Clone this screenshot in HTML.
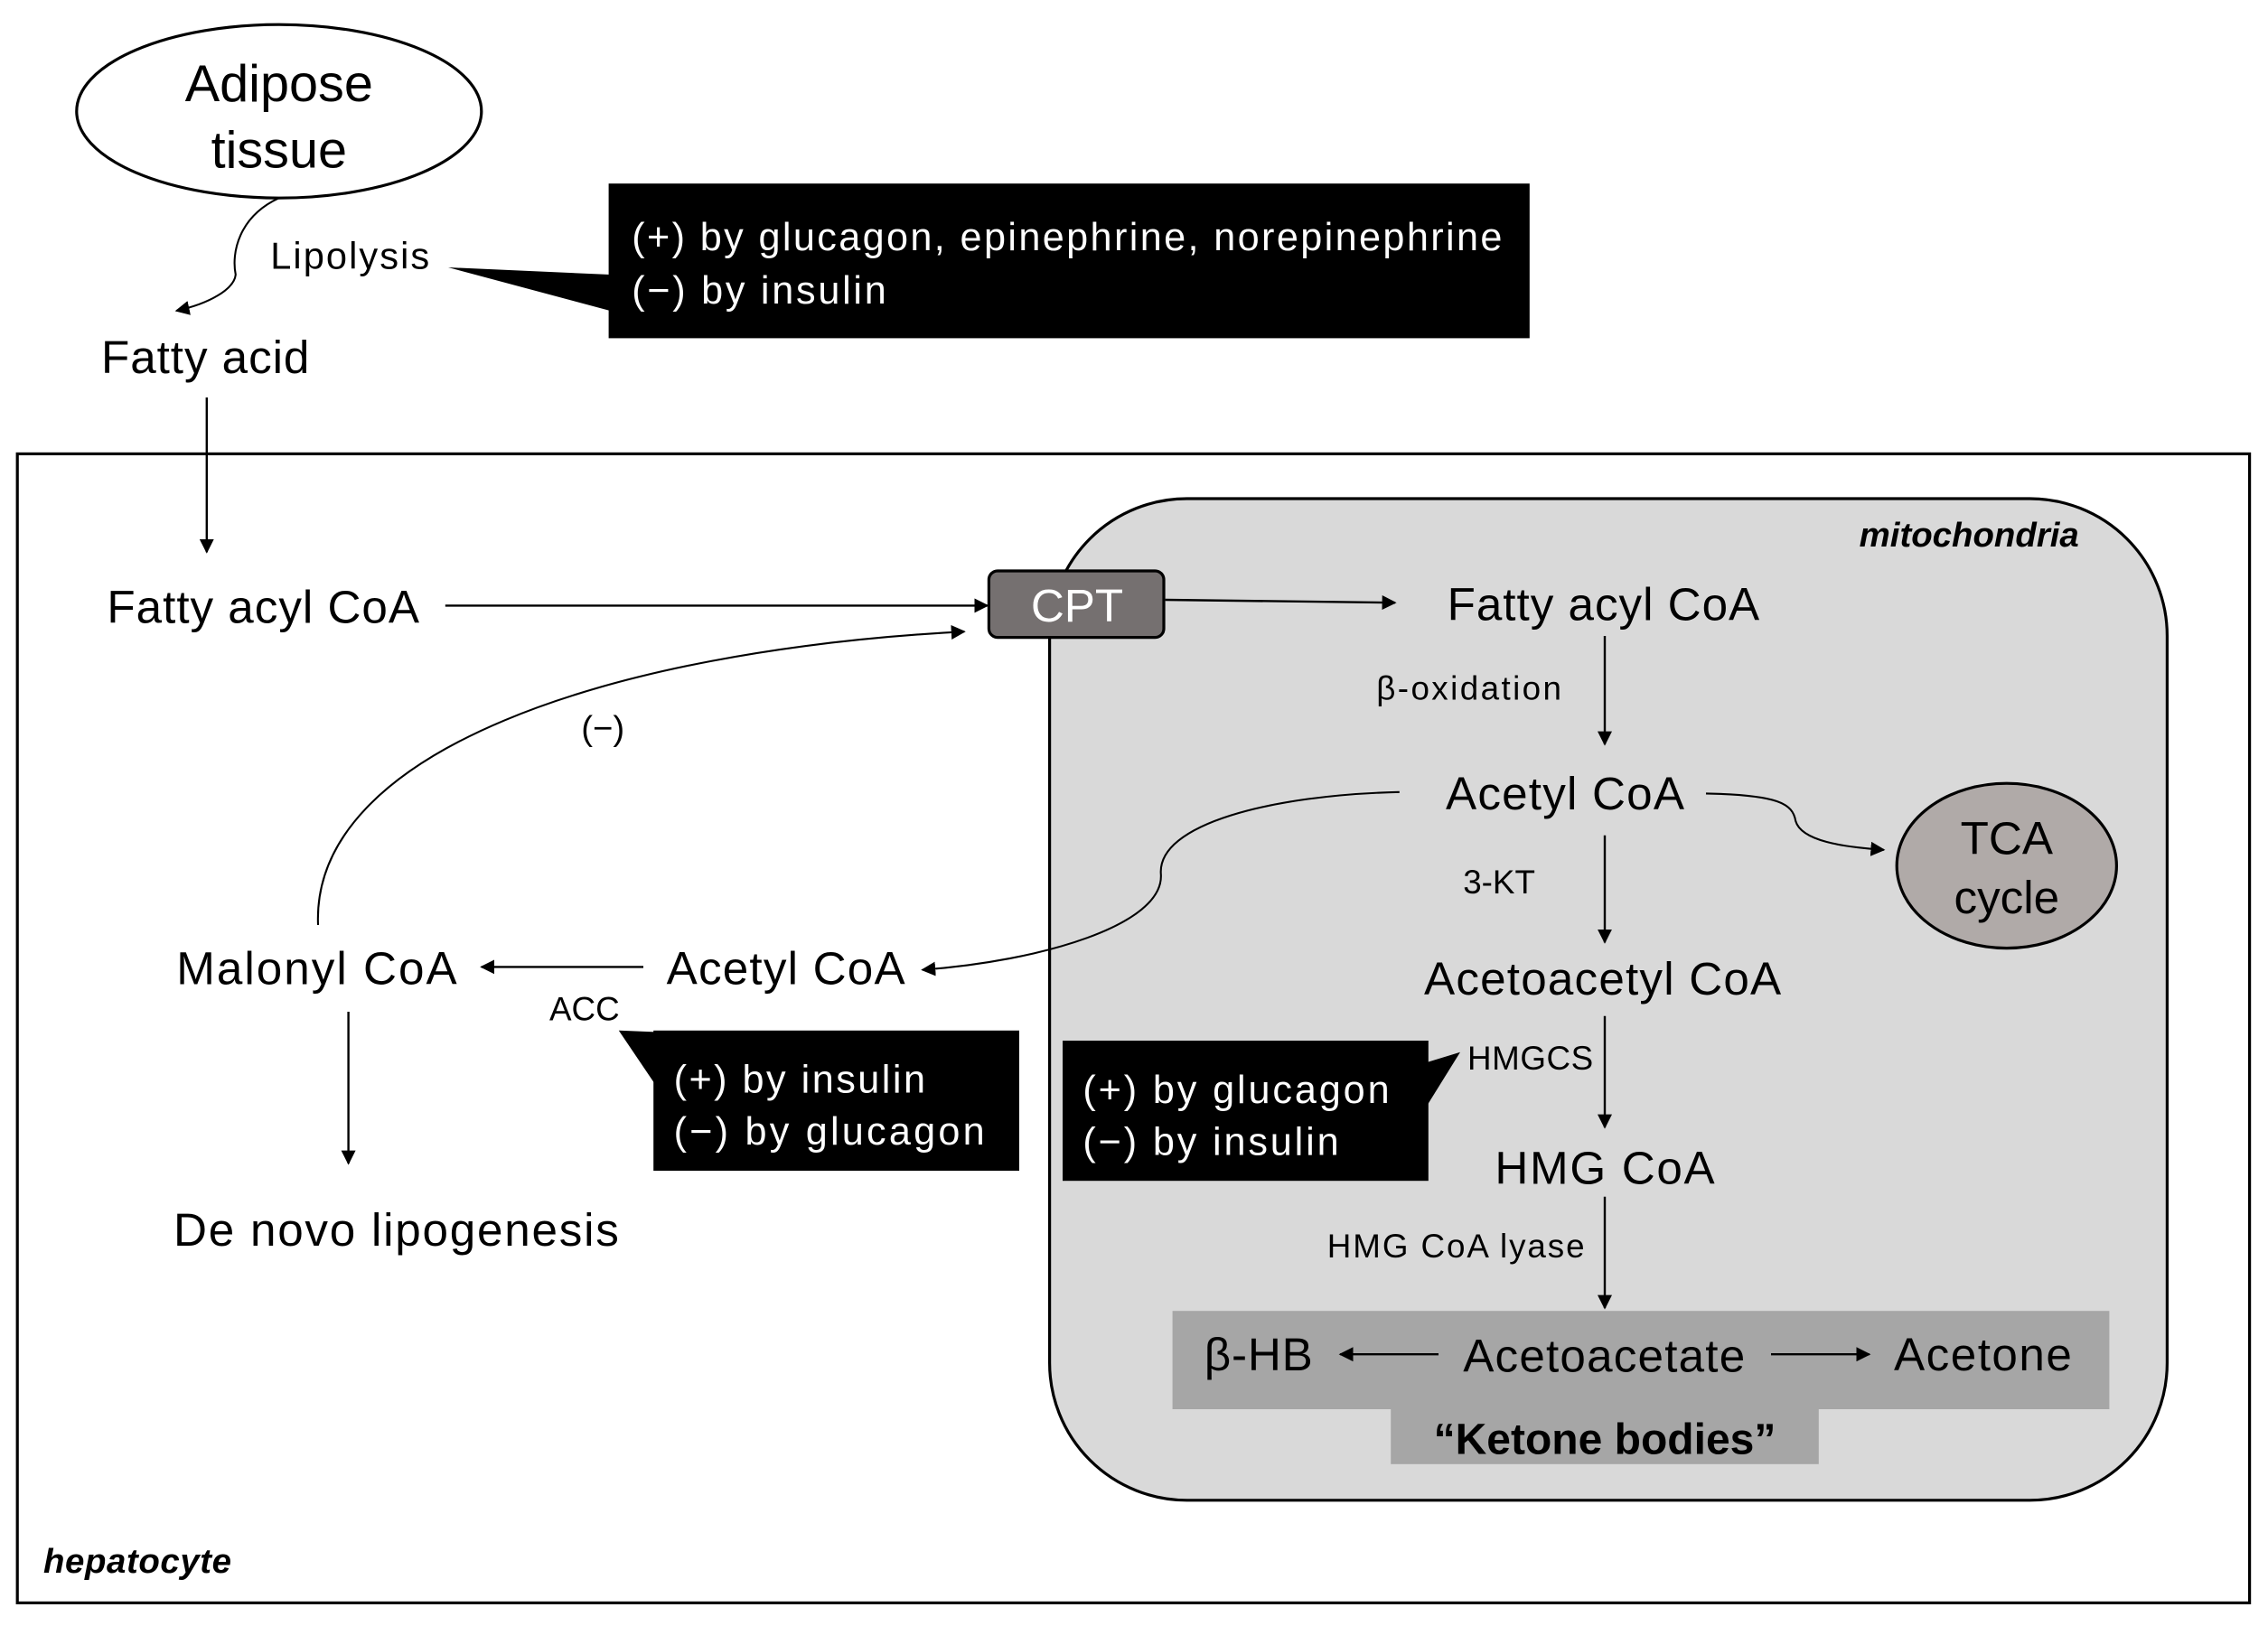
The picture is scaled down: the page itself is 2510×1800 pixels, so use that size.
<!DOCTYPE html>
<html><head><meta charset="utf-8"><style>
html,body{margin:0;padding:0;background:#fff;}
svg{display:block;}
text{font-family:"Liberation Sans",sans-serif;}
</style></head><body>
<svg width="2510" height="1800" viewBox="0 0 1568.75 1125" preserveAspectRatio="none" xmlns="http://www.w3.org/2000/svg">
<defs>
<marker id="a" markerWidth="10" markerHeight="10" refX="9" refY="5" orient="auto" markerUnits="userSpaceOnUse">
<path d="M0,0 L10,5 L0,10 z" fill="#000"/></marker>
</defs>
<rect width="1568.75" height="1125" fill="#fff"/>
<!-- adipose -->
<ellipse cx="193" cy="77" rx="140" ry="60" fill="#fff" stroke="#000" stroke-width="2"/>
<text x="193" y="70" font-size="36" text-anchor="middle">Adipose</text>
<text x="193" y="116" font-size="36" text-anchor="middle">tissue</text>
<path d="M193,137 C165,150 160,175 163,190 C162,200 145,210 122,215" fill="none" stroke="#000" stroke-width="1.3" marker-end="url(#a)"/>
<text x="187" y="186" font-size="26" textLength="110">Lipolysis</text>
<rect x="421" y="127" width="637" height="107" fill="#000"/>
<path d="M310,185 L422,190 L422,215 z" fill="#000"/>
<text x="437" y="173" font-size="27" fill="#fff" textLength="602">(+) by glucagon, epinephrine, norepinephrine</text>
<text x="437" y="210" font-size="27" fill="#fff" textLength="176">(−) by insulin</text>
<text x="70" y="258" font-size="32" textLength="144">Fatty acid</text>
<line x1="143" y1="275" x2="143" y2="382" stroke="#000" stroke-width="1.5" marker-end="url(#a)"/>
<!-- hepatocyte -->
<rect x="12" y="314" width="1544" height="795" fill="none" stroke="#000" stroke-width="2"/>
<text x="30" y="1088" font-size="24" font-weight="bold" font-style="italic" textLength="130">hepatocyte</text>
<!-- mitochondria -->
<rect x="726" y="345" width="773" height="693" rx="95" fill="#d9d9d9" stroke="#000" stroke-width="2"/>
<text x="1438" y="378" font-size="24" font-weight="bold" font-style="italic" text-anchor="end">mitochondria</text>
<text x="74" y="431" font-size="32" textLength="216">Fatty acyl CoA</text>
<line x1="308" y1="419" x2="683" y2="419" stroke="#000" stroke-width="1.5" marker-end="url(#a)"/>
<rect x="684" y="395" width="121" height="46" rx="6" fill="#757070" stroke="#000" stroke-width="2"/>
<text x="745" y="430" font-size="32" fill="#fff" text-anchor="middle">CPT</text>
<line x1="806" y1="415" x2="965" y2="417" stroke="#000" stroke-width="1.5" marker-end="url(#a)"/>
<text x="1001" y="429" font-size="32" textLength="216">Fatty acyl CoA</text>
<text x="952" y="484" font-size="23" textLength="128">β-oxidation</text>
<line x1="1110" y1="440" x2="1110" y2="515" stroke="#000" stroke-width="1.5" marker-end="url(#a)"/>
<text x="1000" y="560" font-size="32" textLength="165">Acetyl CoA</text>
<text x="1012" y="618" font-size="23">3-KT</text>
<line x1="1110" y1="578" x2="1110" y2="652" stroke="#000" stroke-width="1.5" marker-end="url(#a)"/>
<text x="985" y="688" font-size="32" textLength="247">Acetoacetyl CoA</text>
<text x="1015" y="740" font-size="23" textLength="87">HMGCS</text>
<line x1="1110" y1="703" x2="1110" y2="780" stroke="#000" stroke-width="1.5" marker-end="url(#a)"/>
<text x="1034" y="819" font-size="32" textLength="152">HMG CoA</text>
<text x="918" y="870" font-size="23" textLength="178">HMG CoA lyase</text>
<line x1="1110" y1="828" x2="1110" y2="905" stroke="#000" stroke-width="1.5" marker-end="url(#a)"/>
<rect x="811" y="907" width="648" height="68" fill="#a6a6a6"/>
<text x="833" y="948" font-size="32" textLength="75">β-HB</text>
<line x1="995" y1="937" x2="927" y2="937" stroke="#000" stroke-width="1.5" marker-end="url(#a)"/>
<text x="1012" y="949" font-size="32" textLength="195">Acetoacetate</text>
<line x1="1225" y1="937" x2="1293" y2="937" stroke="#000" stroke-width="1.5" marker-end="url(#a)"/>
<text x="1310" y="948" font-size="32" textLength="123">Acetone</text>
<rect x="962" y="975" width="296" height="38" fill="#a6a6a6"/>
<text x="1110" y="1006" font-size="30" font-weight="bold" text-anchor="middle">“Ketone bodies”</text>
<!-- TCA -->
<ellipse cx="1388" cy="599" rx="76" ry="57" fill="#b0aaa8" stroke="#000" stroke-width="2"/>
<text x="1388" y="591" font-size="32" text-anchor="middle">TCA</text>
<text x="1388" y="632" font-size="32" text-anchor="middle">cycle</text>
<path d="M1180,549 C1230,550 1240,556 1242,568 C1246,582 1275,586 1303,588" fill="none" stroke="#000" stroke-width="1.3" marker-end="url(#a)"/>
<path d="M968,548 C880,550 800,570 803,605 C805,640 720,665 638,671" fill="none" stroke="#000" stroke-width="1.3" marker-end="url(#a)"/>
<!-- left -->
<text x="461" y="681" font-size="32" textLength="165">Acetyl CoA</text>
<line x1="445" y1="669" x2="333" y2="669" stroke="#000" stroke-width="1.5" marker-end="url(#a)"/>
<text x="122" y="681" font-size="32" textLength="194">Malonyl CoA</text>
<text x="380" y="706" font-size="23">ACC</text>
<rect x="452" y="713" width="253" height="97" fill="#000"/>
<path d="M428,713 L453,714 L453,750 z" fill="#000"/>
<text x="466" y="756" font-size="27" fill="#fff" textLength="174">(+) by insulin</text>
<text x="466" y="792" font-size="27" fill="#fff" textLength="215">(−) by glucagon</text>
<rect x="735" y="720" width="253" height="97" fill="#000"/>
<path d="M1010,728 L987,735 L987,765 z" fill="#000"/>
<text x="749" y="763" font-size="27" fill="#fff" textLength="212">(+) by glucagon</text>
<text x="749" y="799" font-size="27" fill="#fff" textLength="177">(−) by insulin</text>
<line x1="241" y1="700" x2="241" y2="805" stroke="#000" stroke-width="1.5" marker-end="url(#a)"/>
<text x="120" y="862" font-size="32" textLength="308">De novo lipogenesis</text>
<path d="M220,640 C215,520 420,450 667,437" fill="none" stroke="#000" stroke-width="1.3" marker-end="url(#a)"/>
<text x="402" y="512" font-size="24">(−)</text>
</svg>
</body></html>
